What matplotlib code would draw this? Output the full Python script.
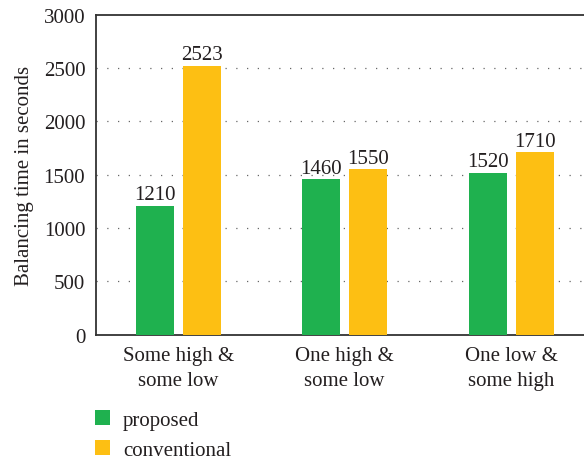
import matplotlib
matplotlib.use("Agg")
import matplotlib.pyplot as plt
import numpy as np

categories = ["Some high &\nsome low", "One high &\nsome low", "One low &\nsome high"]
proposed = [1210, 1460, 1520]
conventional = [2523, 1550, 1710]
yticks = [0, 500, 1000, 1500, 2000, 2500, 3000]

plt.rcParams['font.family'] = ['Liberation Serif', 'DejaVu Serif']
text_color = "#231f20"
green = "#1fb14f"
orange = "#fdbf13"
fs = 15

fig = plt.figure(figsize=(5.84, 4.60), dpi=100)
ax = fig.add_axes([95.7 / 584, 1 - 335.7 / 460, 1 - 95.7 / 584, 320 / 460])

x = np.arange(len(categories))
w = 0.228
off = 0.141
b1 = ax.bar(x - off, proposed, w, color=green, label="proposed", zorder=3)
b2 = ax.bar(x + off, conventional, w, color=orange, label="conventional", zorder=3)

for bars, vals in ((b1, proposed), (b2, conventional)):
    for r, v in zip(bars, vals):
        ax.annotate(str(v), (r.get_x() + r.get_width() / 2, v), xytext=(0, 4.5),
                    textcoords="offset points", ha="center", va="baseline",
                    fontsize=fs, color=text_color)

ax.set_xlim(-0.496, 2.438)
ax.set_ylim(0, 3000)
ax.set_yticks(yticks)
ax.set_xticks(x)
ax.set_xticklabels(categories, fontsize=fs, color=text_color, linespacing=1.45)
ax.tick_params(axis="y", length=0, labelsize=fs, labelcolor=text_color, pad=7.5)
ax.tick_params(axis="x", length=0, pad=8)

for y in yticks[1:-1]:
    ax.axhline(y, color="#666666", linestyle=(0, (1, 7.6)), linewidth=0.9, zorder=1)

for s in ("left", "bottom", "top"):
    ax.spines[s].set_color("#333333")
    ax.spines[s].set_linewidth(1.3)
ax.spines["right"].set_visible(False)

ax.set_ylabel("Balancing time in seconds", fontsize=fs, color=text_color, labelpad=7)

fig.legend(handles=[b1, b2], loc="upper left", bbox_to_anchor=(95 / 584, 1 - 411 / 460),
           frameon=False, fontsize=fs, handlelength=0.72, handleheight=0.72,
           handletextpad=0.62, labelspacing=0.5, borderaxespad=0, borderpad=0,
           labelcolor=text_color)

fig.savefig("out.png", dpi=100)
